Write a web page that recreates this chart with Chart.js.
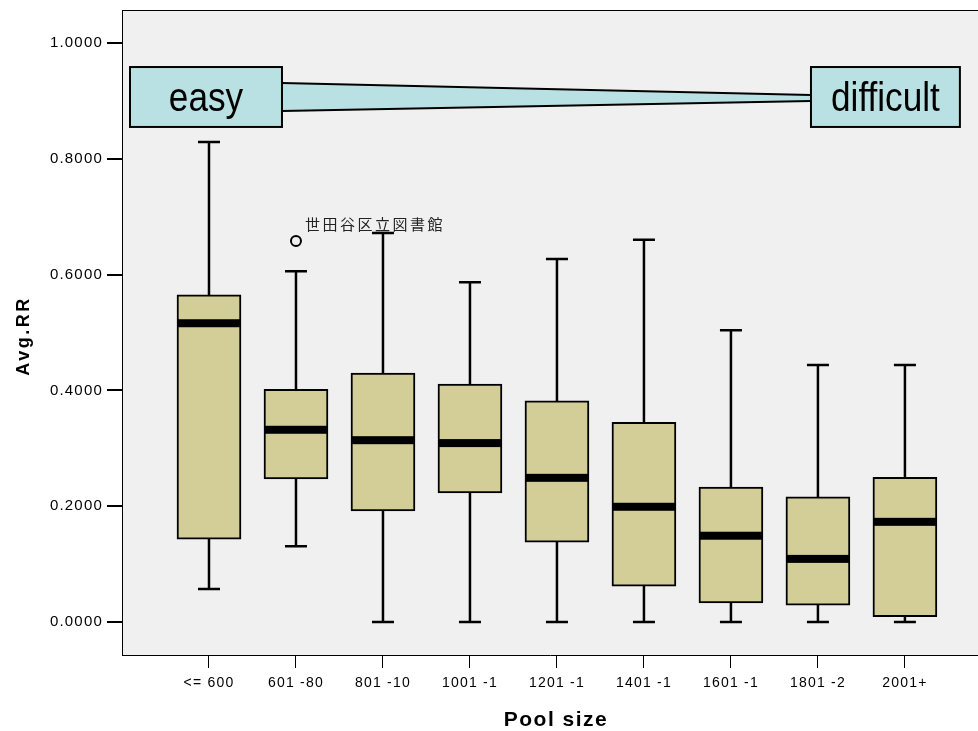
<!DOCTYPE html>
<html><head><meta charset="utf-8">
<script src="https://cdn.jsdelivr.net/npm/chart.js@4.4.1/dist/chart.umd.min.js"></script>
<style>html,body{margin:0;padding:0;background:#fff;}#wrap{width:978px;height:731px;}</style>
</head><body><div id="wrap"><canvas id="c" width="978" height="731"></canvas></div>
<script>
const categories = ['<= 600','601 -80','801 -10','1001 -1','1201 -1','1401 -1','1601 -1','1801 -2','2001+'];
const whiskerHigh = [0.829,0.606,0.672,0.587,0.627,0.660,0.504,0.444,0.444];
const q3 =          [0.565,0.402,0.430,0.411,0.382,0.345,0.233,0.216,0.250];
const median =      [0.516,0.332,0.314,0.309,0.249,0.199,0.149,0.109,0.173];
const q1 =          [0.143,0.247,0.192,0.223,0.138,0.062,0.033,0.029,0.009];
const whiskerLow =  [0.057,0.131,0,0,0,0,0,0,0];
const outlierCategory = [2];
const outlierValues = [0.658];
const outlierLabels = ['世田谷区立図書館'];
const yTicks = [0,0.2,0.4,0.6,0.8,1.0];
const xTitle = 'Pool size';
const yTitle = 'Avg.RR';
const easyText = 'easy';
const difficultText = 'difficult';

// annotation geometry in data units
const easyBox = {x0:0.092, x1:1.839, yTop:0.9585, yBot:0.855};
const diffBox = {x0:7.92, x1:9.632, yTop:0.9585, yBot:0.855};
const wedge = {leftTop:0.931, leftBot:0.8826, rightTop:0.910, rightBot:0.8998};

const BOX_FILL = '#d3ce97';
const ANNOT_FILL = '#b9e0e2';

const boxPlugin = {
  id: 'boxPlugin',
  beforeDraw(chart) {
    const {ctx, chartArea:a} = chart;
    ctx.save();
    ctx.fillStyle = '#f0f0f0';
    ctx.fillRect(a.left, a.top, a.right - a.left, a.bottom - a.top);
    ctx.restore();
    ctx.letterSpacing = '1.2px';
  },
  beforeDatasetsDraw(chart) {
    const {ctx} = chart;
    const xs = chart.scales.x, ys = chart.scales.y;
    ctx.save();
    ctx.strokeStyle = '#000';
    ctx.lineWidth = 2.5;
    categories.forEach((c, i) => {
      const x = xs.getPixelForValue(i + 1);
      const yh = ys.getPixelForValue(whiskerHigh[i]);
      const yl = ys.getPixelForValue(whiskerLow[i]);
      ctx.beginPath();
      ctx.moveTo(x, yh); ctx.lineTo(x, yl);
      ctx.moveTo(x - 11, yh); ctx.lineTo(x + 11, yh);
      ctx.moveTo(x - 11, yl); ctx.lineTo(x + 11, yl);
      ctx.stroke();
    });
    ctx.restore();
  },
  afterDatasetsDraw(chart) {
    const {ctx} = chart;
    const xs = chart.scales.x, ys = chart.scales.y;
    ctx.save();
    ctx.fillStyle = '#000';
    categories.forEach((c, i) => {
      const x = xs.getPixelForValue(i + 1);
      const y = ys.getPixelForValue(median[i]);
      ctx.fillRect(x - 31, y - 4, 62, 8);
    });
    // outlier labels
    ctx.letterSpacing = '2.5px';
    ctx.font = '15px "Noto Sans CJK JP"';
    ctx.fillStyle = '#222';
    ctx.textBaseline = 'middle';
    ctx.textAlign = 'left';
    outlierCategory.forEach((c, k) => {
      const x = xs.getPixelForValue(c);
      const y = ys.getPixelForValue(outlierValues[k]);
      ctx.fillText(outlierLabels[k], x + 9, y - 17);
    });
    ctx.restore();
  },
  afterDraw(chart) {
    const {ctx, chartArea:a} = chart;
    const xs = chart.scales.x, ys = chart.scales.y;
    const px = v => xs.getPixelForValue(v), py = v => ys.getPixelForValue(v);
    ctx.save();
    // top border
    ctx.strokeStyle = '#000'; ctx.lineWidth = 1;
    ctx.beginPath(); ctx.moveTo(a.left, a.top + 0.5); ctx.lineTo(a.right, a.top + 0.5); ctx.stroke();
    // wedge
    ctx.fillStyle = ANNOT_FILL;
    ctx.beginPath();
    ctx.moveTo(px(easyBox.x1), py(wedge.leftTop));
    ctx.lineTo(px(diffBox.x0), py(wedge.rightTop));
    ctx.lineTo(px(diffBox.x0), py(wedge.rightBot));
    ctx.lineTo(px(easyBox.x1), py(wedge.leftBot));
    ctx.closePath(); ctx.fill();
    ctx.lineWidth = 2; ctx.strokeStyle = '#000';
    ctx.beginPath();
    ctx.moveTo(px(easyBox.x1), py(wedge.leftTop)); ctx.lineTo(px(diffBox.x0), py(wedge.rightTop));
    ctx.moveTo(px(easyBox.x1), py(wedge.leftBot)); ctx.lineTo(px(diffBox.x0), py(wedge.rightBot));
    ctx.stroke();
    // boxes
    [[easyBox, easyText], [diffBox, difficultText]].forEach(([b, t]) => {
      const x0 = px(b.x0), x1 = px(b.x1), y0 = py(b.yTop), y1 = py(b.yBot);
      ctx.fillStyle = ANNOT_FILL;
      ctx.fillRect(x0, y0, x1 - x0, y1 - y0);
      ctx.strokeRect(x0, y0, x1 - x0, y1 - y0);
      ctx.save();
      ctx.letterSpacing = '0px';
      ctx.translate((x0 + x1) / 2, y1 - 16);
      ctx.scale(0.88, 1);
      ctx.font = '40px "Liberation Sans"';
      ctx.fillStyle = '#000';
      ctx.textAlign = 'center';
      ctx.textBaseline = 'alphabetic';
      ctx.fillText(t, 0, 0);
      ctx.restore();
    });
    // axis titles
    ctx.fillStyle = '#000';
    ctx.textAlign = 'center';
    ctx.textBaseline = 'alphabetic';
    ctx.letterSpacing = '1.5px';
    ctx.font = 'bold 21px "Liberation Sans"';
    ctx.fillText(xTitle, 556, 726);
    ctx.save();
    ctx.letterSpacing = '2.5px';
    ctx.font = 'bold 18px "Liberation Sans"';
    ctx.translate(29, 336);
    ctx.rotate(-Math.PI / 2);
    ctx.fillText(yTitle, 0, 0);
    ctx.restore();
    ctx.restore();
  }
};

new Chart(document.getElementById('c'), {
  type: 'bar',
  data: {
    datasets: [
      {
        type: 'bar',
        label: 'box',
        data: categories.map((c, i) => ({x: i + 1, y: [q1[i], q3[i]]})),
        backgroundColor: BOX_FILL,
        borderColor: '#000',
        borderWidth: 2,
        borderSkipped: false,
        barThickness: 64,
        order: 2
      },
      {
        type: 'scatter',
        label: 'outliers',
        data: outlierCategory.map((c, k) => ({x: c, y: outlierValues[k]})),
        pointRadius: 5,
        pointBorderWidth: 2,
        borderColor: '#000',
        backgroundColor: 'rgba(0,0,0,0)',
        order: 1
      }
    ]
  },
  options: {
    responsive: false,
    devicePixelRatio: 1,
    animation: false,
    layout: {autoPadding: false, padding: {top: 10, left: 0, right: 0, bottom: 0}},
    plugins: {legend: {display: false}, tooltip: {enabled: false}, title: {display: false}},
    scales: {
      x: {
        type: 'linear',
        offset: false,
        min: 0,
        max: 9.84,
        afterBuildTicks: s => { s.ticks = categories.map((c, i) => ({value: i + 1})); },
        afterFit: s => { s.height = 76; s.paddingLeft = 0; s.paddingRight = 0; },
        grid: {display: true, offset: false, drawOnChartArea: false, drawTicks: true, tickLength: 13, color: '#000', lineWidth: 1},
        border: {display: true, color: '#000', width: 1},
        ticks: {
          autoSkip: false, maxRotation: 0, minRotation: 0, padding: 7,
          color: '#000', font: {family: '"Liberation Sans", Arial, sans-serif', size: 14},
          callback: (v, i) => categories[i]
        }
      },
      y: {
        type: 'linear',
        min: -0.057,
        max: 1.057,
        afterBuildTicks: s => { s.ticks = yTicks.map(v => ({value: v})); },
        afterFit: s => { s.width = 122; s.paddingTop = 0; s.paddingBottom = 0; },
        grid: {display: true, drawOnChartArea: false, drawTicks: true, tickLength: 15, color: '#000', lineWidth: 2},
        border: {display: true, color: '#000', width: 1},
        ticks: {
          padding: 4, color: '#000',
          font: {family: '"Liberation Sans", Arial, sans-serif', size: 15},
          callback: v => Number(v).toFixed(4)
        }
      }
    }
  },
  plugins: [boxPlugin]
});
</script>
</body></html>
